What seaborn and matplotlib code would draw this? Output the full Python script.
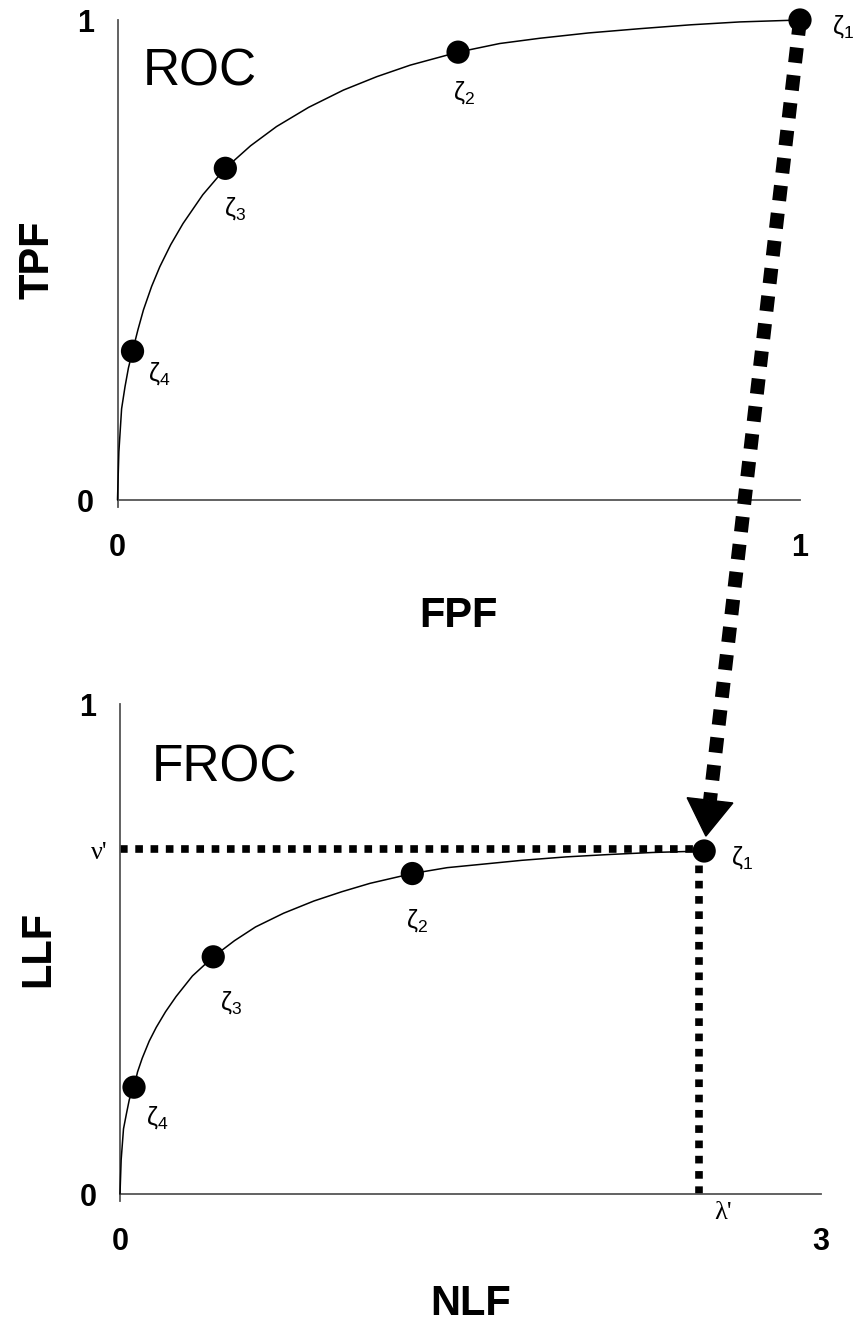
import matplotlib
matplotlib.use("Agg")
import matplotlib.pyplot as plt
import numpy as np
import pandas as pd
import seaborn as sns
from matplotlib.lines import Line2D
from matplotlib.patches import Polygon
from matplotlib.transforms import IdentityTransform

# operating points zeta_1 .. zeta_4
zeta_ids = ["1", "2", "3", "4"]
roc_fpf = [1.0, 0.499, 0.158, 0.022]
roc_tpf = [1.0, 0.933, 0.691, 0.310]
froc_nlf = [2.5, 1.251, 0.399, 0.060]
froc_llf = [0.70, 0.654, 0.484, 0.218]

# curves
roc_curve_fpf = [0.0, 0.002, 0.006, 0.011, 0.016, 0.022, 0.030, 0.038, 0.050,
                 0.062, 0.078, 0.096, 0.125, 0.158, 0.195, 0.233, 0.280, 0.331,
                 0.380, 0.429, 0.499, 0.560, 0.619, 0.690, 0.766, 0.840, 0.912, 1.0]
roc_curve_tpf = [0.0, 0.100, 0.190, 0.236, 0.275, 0.310, 0.355, 0.396, 0.445,
                 0.486, 0.532, 0.576, 0.636, 0.691, 0.738, 0.778, 0.818, 0.854,
                 0.882, 0.906, 0.933, 0.951, 0.962, 0.973, 0.982, 0.990, 0.996, 1.0]
froc_curve_nlf = [0.0, 0.005, 0.015, 0.028, 0.040, 0.060, 0.075, 0.095, 0.125,
                  0.155, 0.195, 0.240, 0.310, 0.399, 0.490, 0.580, 0.700, 0.830,
                  0.950, 1.070, 1.251, 1.400, 1.550, 1.720, 1.910, 2.100, 2.280, 2.5]
froc_curve_llf = [0.0, 0.070, 0.133, 0.165, 0.193, 0.218, 0.249, 0.277, 0.312,
                  0.340, 0.372, 0.403, 0.445, 0.484, 0.517, 0.545, 0.573, 0.598,
                  0.617, 0.634, 0.654, 0.666, 0.673, 0.681, 0.688, 0.693, 0.697, 0.70]

nu_prime = 0.705
lambda_prime = 2.48

# label offsets (points) for the zeta labels
roc_label_off = [(31, -5), (4, -29), (7, -29), (19, -16)]
froc_label_off = [(27, -5), (3, -34), (13, -33), (17, -22)]

sns.set_style("white")
plt.rcParams["font.family"] = ["Liberation Sans", "DejaVu Sans"]
plt.rcParams["mathtext.fontset"] = "custom"
plt.rcParams["mathtext.rm"] = "Liberation Sans"
plt.rcParams["mathtext.it"] = "Liberation Sans"
for key in ["text.color", "axes.labelcolor", "xtick.labelcolor", "ytick.labelcolor"]:
    plt.rcParams[key] = "black"

AXIS_COLOR = "#555555"

fig = plt.figure(figsize=(8.59, 13.25), dpi=100)
ax_roc = fig.add_axes([117.5 / 859, 1 - 500 / 1325, 682.5 / 859, 480 / 1325])
ax_froc = fig.add_axes([120 / 859, 1 - 1194 / 1325, 701 / 859, 490 / 1325])


def style_axes(ax, xmax, xticks, xlabels, xlabel, ylabel, xlab_y, ylab_x):
    ax.set_xlim(0, xmax)
    ax.set_ylim(0, 1)
    for s in ["top", "right"]:
        ax.spines[s].set_visible(False)
    for s in ["left", "bottom"]:
        ax.spines[s].set_color(AXIS_COLOR)
        ax.spines[s].set_linewidth(1.3)
    ax.spines["left"].set_bounds(-0.015, 1)
    ax.set_xticks(xticks, labels=xlabels)
    ax.set_yticks([0, 1], labels=["0", "1"])
    ax.tick_params(axis="y", direction="out", length=5, width=1.3,
                   color=AXIS_COLOR, pad=12, labelsize=22)
    ax.tick_params(axis="x", direction="in", length=5, width=1.3,
                   color=AXIS_COLOR, pad=24, labelsize=22)
    for lab in ax.get_xticklabels() + ax.get_yticklabels():
        lab.set_fontweight("bold")
    ax.set_xlabel(xlabel, fontsize=30, fontweight="bold")
    ax.set_ylabel(ylabel, fontsize=30, fontweight="bold")
    ax.xaxis.set_label_coords(0.5, xlab_y)
    ax.yaxis.set_label_coords(ylab_x, 0.5)
    ax.patch.set_alpha(0)


def draw_panel(ax, cx, cy, px, py, offsets):
    curve = pd.DataFrame({"x": cx, "y": cy})
    sns.lineplot(data=curve, x="x", y="y", ax=ax, color="black", lw=1.1,
                 estimator=None, sort=False, clip_on=False, zorder=3)
    pts = pd.DataFrame({"x": px, "y": py, "z": zeta_ids})
    sns.scatterplot(data=pts, x="x", y="y", ax=ax, color="black", s=280,
                    edgecolor="none", clip_on=False, zorder=5)
    for (x, y, z), off in zip(zip(px, py, zeta_ids), offsets):
        ax.annotate(r"$\zeta_{%s}$" % z, (x, y), xytext=off,
                    textcoords="offset points", ha="center", va="center",
                    fontsize=18, annotation_clip=False)


draw_panel(ax_roc, roc_curve_fpf, roc_curve_tpf, roc_fpf, roc_tpf, roc_label_off)
draw_panel(ax_froc, froc_curve_nlf, froc_curve_llf, froc_nlf, froc_llf, froc_label_off)

style_axes(ax_roc, 1.0, [0, 0.5, 1.0], ["0", "", "1"], "FPF", "TPF", -0.20, -0.088)
style_axes(ax_froc, 3.0, [0, 1, 2, 3], ["0", "", "", "3"], "NLF", "LLF", -0.183, -0.088)

ax_roc.text(0.037, 0.8625, "ROC", transform=ax_roc.transAxes, fontsize=37,
            va="baseline", ha="left")
ax_froc.text(0.046, 0.841, "FROC", transform=ax_froc.transAxes, fontsize=37,
             va="baseline", ha="left")

# nu' / lambda' guide lines
dot_style = dict(color="black", lw=5.5, linestyle=(0, (1, 1)),
                 dash_capstyle="butt", zorder=2, clip_on=False)
ax_froc.plot([0, lambda_prime], [nu_prime, nu_prime], **dot_style)
ax_froc.plot([lambda_prime, lambda_prime], [0, nu_prime], **dot_style)
serif = ["Liberation Serif", "DejaVu Serif"]
ax_froc.annotate("\u03bd'", (0, nu_prime), xytext=(-9, -3),
                 textcoords="offset points", ha="right", va="center",
                 fontsize=19, family=serif, annotation_clip=False)
ax_froc.annotate("\u03bb'", (lambda_prime, 0), xytext=(17, -14),
                 textcoords="offset points", ha="center", va="center",
                 fontsize=19, family=serif, annotation_clip=False)

# thick dotted arrow from ROC zeta_1 to FROC zeta_1
p_top = ax_roc.transData.transform((roc_fpf[0], roc_tpf[0]))
p_bot = ax_froc.transData.transform((froc_nlf[0], froc_llf[0]))
d = p_bot - p_top
u = d / np.hypot(*d)
n = np.array([-u[1], u[0]])
tip = p_bot - u * 15
base = tip - u * 36
fig.add_artist(Line2D([p_top[0], base[0]], [p_top[1], base[1]],
                      transform=IdentityTransform(), lw=10, color="black",
                      linestyle=(0, (1.1, 0.9)), dash_capstyle="butt"))
fig.add_artist(Polygon([base + n * 23, base - n * 23, tip], closed=True,
                       transform=IdentityTransform(), color="black"))

fig.savefig("out.png", dpi=100)
